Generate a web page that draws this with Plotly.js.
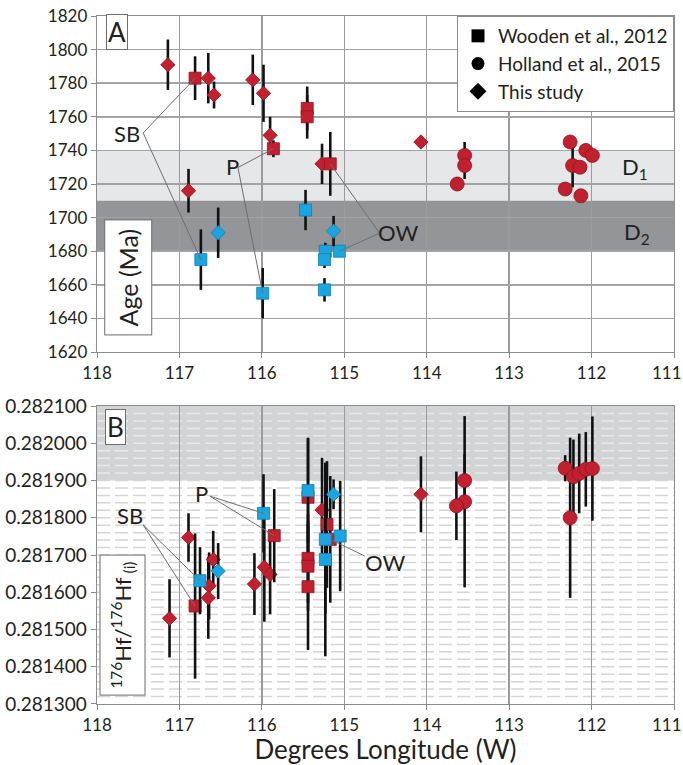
<!DOCTYPE html>
<html>
<head>
<meta charset="utf-8">
<script src="https://cdn.plot.ly/plotly-3.0.1.min.js"></script>
<style>html,body{margin:0;padding:0;background:#fff;}#chart{width:683px;height:765px;}</style>
</head>
<body>
<div id="chart"></div>
<script>
// ---------- Panel A : U-Pb age (Ma) ----------
const ageWoodenRedLon = [116.81, 115.86, 115.45, 115.45, 115.17];
const ageWoodenRedVal = [1783, 1741, 1765, 1760, 1732];
const ageWoodenRedErr = [13, 5, 13, 13, 19];

const ageWoodenBlueLon = [116.74, 115.99, 115.47, 115.23, 115.24, 115.06, 115.24];
const ageWoodenBlueVal = [1675, 1655, 1704.5, 1680, 1675, 1680, 1657];
const ageWoodenBlueErr = [18, 15, 12, 5, 5, 3, 7];

const ageStudyRedLon = [117.14, 116.65, 116.58, 116.11, 115.98, 115.90, 115.27, 116.89, 114.07];
const ageStudyRedVal = [1791, 1783, 1773, 1782, 1774, 1749, 1732, 1716, 1745];
const ageStudyRedErr = [15, 15, 8, 15, 17, 11, 12, 13, 2];

const ageStudyBlueLon = [116.53, 115.13];
const ageStudyBlueVal = [1691, 1692];
const ageStudyBlueErr = [15, 9];

const ageHollandLon = [113.54, 113.54, 113.63, 112.26, 112.07, 111.99, 112.23, 112.14, 112.32, 112.13];
const ageHollandVal = [1737, 1731, 1720, 1745, 1740, 1737, 1731, 1730, 1717, 1713];
const ageHollandErr = [8, 8, 4, 3, 3, 3, 13, 3, 3, 3];

// ---------- Panel B : 176Hf/176Hf(i) ----------
const hfStudyRedLon = [117.12, 116.89, 116.59, 116.64, 116.65, 116.09, 115.97, 115.90, 115.27, 114.07];
const hfStudyRedVal = [0.281530, 0.281747, 0.281688, 0.281617, 0.281585, 0.281622, 0.281667, 0.281648, 0.281821, 0.281863];
const hfStudyRedErr = [0.000105, 0.000065, 0.000077, 0.000090, 0.000110, 0.000083, 0.000146, 0.000107, 0.000140, 0.000102];

const hfWoodenRedLon = [116.81, 115.85, 115.44, 115.44, 115.44, 115.44, 115.21, 115.17];
const hfWoodenRedVal = [0.281563, 0.281752, 0.281855, 0.281691, 0.281670, 0.281615, 0.281782, 0.281742];
const hfWoodenRedErr = [0.000195, 0.000125, 0.000160, 0.000120, 0.000120, 0.000170, 0.000170, 0.000170];

const hfWoodenBlueLon = [116.75, 115.98, 115.44, 115.23, 115.23, 115.05];
const hfWoodenBlueVal = [0.281631, 0.281812, 0.281873, 0.281742, 0.281688, 0.281751];
const hfWoodenBlueErr = [0.000090, 0.000105, 0.000140, 0.000200, 0.000260, 0.000148];

const hfStudyBlueLon = [116.53, 115.13];
const hfStudyBlueVal = [0.281657, 0.281863];
const hfStudyBlueErr = [0.000075, 0.000040];

const hfHollandLon = [113.54, 113.54, 113.64, 112.32, 112.22, 112.15, 112.07, 111.99, 112.26];
const hfHollandVal = [0.281900, 0.281843, 0.281832, 0.281933, 0.281910, 0.281919, 0.281930, 0.281932, 0.281800];
const hfHollandErr = [0.000070, 0.000230, 0.000092, 0.000035, 0.000100, 0.000107, 0.000100, 0.000140, 0.000215];

// ---------- labels / axis settings ----------
const xTickVals = [118, 117, 116, 115, 114, 113, 112, 111];
const legendNames = ["Wooden et al., 2012", "Holland et al., 2015", "This study"];
const d1Band = [1710, 1740];
const d2Band = [1680, 1710];
const ageRange = [1620, 1820];
const hfRange = [0.2813, 0.2821];
const hfBand = [0.2819, 0.2821];
const hfMinorStep = 0.00002;

const RED = '#c3202f', RED_LINE = '#8a1520';
const BLUE = '#1ba5e0', BLUE_LINE = '#0f7fb3';
const FONT = 'Lato, "Open Sans", sans-serif';
const TXT = '#231f20';
const DASH = '13px,5px';

function pts(xa, ya, lon, val, err, symbol, size, color, line) {
  return {
    type: 'scatter', mode: 'markers', xaxis: xa, yaxis: ya, x: lon, y: val, showlegend: false,
    marker: {symbol: symbol, size: size, color: color, line: {color: line, width: 0.8}},
    error_y: {type: 'data', array: err, visible: true, color: '#111', thickness: 2.6, width: 0},
    hoverinfo: 'x+y'
  };
}

const traces = [
  pts('x', 'y', ageStudyRedLon, ageStudyRedVal, ageStudyRedErr, 'diamond', 11, RED, RED_LINE),
  pts('x', 'y', ageWoodenRedLon, ageWoodenRedVal, ageWoodenRedErr, 'square', 12, RED, RED_LINE),
  pts('x', 'y', ageHollandLon, ageHollandVal, ageHollandErr, 'circle', 14, RED, RED_LINE),
  pts('x', 'y', ageWoodenBlueLon, ageWoodenBlueVal, ageWoodenBlueErr, 'square', 12, BLUE, BLUE_LINE),
  pts('x', 'y', ageStudyBlueLon, ageStudyBlueVal, ageStudyBlueErr, 'diamond', 11, BLUE, BLUE_LINE),

  pts('x2', 'y2', hfHollandLon, hfHollandVal, hfHollandErr, 'circle', 14, RED, RED_LINE),
  pts('x2', 'y2', hfStudyRedLon, hfStudyRedVal, hfStudyRedErr, 'diamond', 11, RED, RED_LINE),
  pts('x2', 'y2', hfWoodenRedLon, hfWoodenRedVal, hfWoodenRedErr, 'square', 12, RED, RED_LINE),
  pts('x2', 'y2', hfWoodenBlueLon, hfWoodenBlueVal, hfWoodenBlueErr, 'square', 12, BLUE, BLUE_LINE),
  pts('x2', 'y2', hfStudyBlueLon, hfStudyBlueVal, hfStudyBlueErr, 'diamond', 11, BLUE, BLUE_LINE)
];
// legend entries (black symbols)
const legSymbols = ['square', 'circle', 'diamond'];
legendNames.forEach((n, i) => {
  traces.push({type: 'scatter', mode: 'markers', x: [null], y: [null], xaxis: 'x', yaxis: 'y',
    name: n, showlegend: true, marker: {symbol: legSymbols[i], size: 13, color: '#000'}});
});

const tickFont = {family: FONT, size: 17, color: TXT};
const lastTick = xTickVals[xTickVals.length - 1];
function xAxis(anchor, extra) {
  return Object.assign({
    anchor: anchor, range: [118, 111], tickvals: xTickVals,
    // the last label (at the right edge) is drawn as a right-aligned annotation so it stays inside the page
    ticktext: xTickVals.map(v => v === lastTick ? '' : String(v)),
    showgrid: true, gridcolor: '#9b9b9b', gridwidth: 1.3, zeroline: false,
    showline: true, linecolor: '#8c8c8c', linewidth: 1.3, mirror: true,
    ticks: 'outside', ticklen: 5, tickcolor: '#8c8c8c', tickfont: tickFont
  }, extra || {});
}

const labelFont = {family: FONT, size: 22, color: TXT};
const annotations = [
  {xref: 'x', yref: 'y', x: lastTick, y: ageRange[0], xanchor: 'right', yanchor: 'top', xshift: 9, yshift: -9,
   text: String(lastTick), showarrow: false, font: tickFont, borderpad: 0},
  {xref: 'x2', yref: 'y2', x: lastTick, y: hfRange[0], xanchor: 'right', yanchor: 'top', xshift: 9, yshift: -9,
   text: String(lastTick), showarrow: false, font: tickFont, borderpad: 0},

  {xref: 'x', yref: 'y', x: 117.76, y: 1810.5, text: 'A', showarrow: false, font: {family: FONT, size: 26, color: TXT},
   bgcolor: '#fff', bordercolor: '#6d6e71', borderwidth: 1, borderpad: 1},
  {xref: 'x', yref: 'y', x: 117.62, y: 1664.6, text: 'Age (Ma)', textangle: -90, showarrow: false,
   font: {family: FONT, size: 25, color: TXT}, bgcolor: '#fff', bordercolor: '#6d6e71', borderwidth: 1, borderpad: 8},
  {xref: 'x', yref: 'y', x: 117.64, y: 1749.8, text: 'SB', showarrow: false, font: labelFont},
  {xref: 'x', yref: 'y', x: 116.36, y: 1730.3, text: 'P', showarrow: false, font: labelFont},
  {xref: 'x', yref: 'y', x: 114.35, y: 1691.4, text: 'OW', showarrow: false, font: labelFont},
  {xref: 'x', yref: 'y', x: 111.47, y: 1729.5, text: 'D<sub>1</sub>', showarrow: false, font: labelFont},
  {xref: 'x', yref: 'y', x: 111.45, y: 1690.8, text: 'D<sub>2</sub>', showarrow: false, font: labelFont},

  {xref: 'x2', yref: 'y2', x: 117.78, y: 0.2820436, text: 'B', showarrow: false, font: {family: FONT, size: 26, color: TXT},
   bgcolor: '#fff', bordercolor: '#6d6e71', borderwidth: 1, borderpad: 1},
  {xref: 'x2', yref: 'y2', x: 117.69, y: 0.281512, text: '<sup>176</sup>Hf/<sup>176</sup>Hf<sub> (i)</sub>', textangle: -90, showarrow: false,
   font: {family: FONT, size: 22, color: TXT}, bgcolor: '#fff', bordercolor: '#6d6e71', borderwidth: 1, borderpad: 6},
  {xref: 'x2', yref: 'y2', x: 117.60, y: 0.281805, text: 'SB', showarrow: false, font: labelFont},
  {xref: 'x2', yref: 'y2', x: 116.73, y: 0.281864, text: 'P', showarrow: false, font: labelFont},
  {xref: 'x2', yref: 'y2', x: 114.51, y: 0.281679, text: 'OW', showarrow: false, font: labelFont}
];

function leader(xa, ya, x0, y0, x1, y1) {
  return {type: 'line', xref: xa, yref: ya, x0: x0, y0: y0, x1: x1, y1: y1, line: {color: '#6d6e71', width: 1}};
}
function band(xa, ya, lim, color) {
  return {type: 'rect', xref: xa + ' domain', yref: ya, x0: 0, x1: 1, y0: lim[0], y1: lim[1],
    fillcolor: color, line: {width: 0}, layer: 'below'};
}
const shapes = [
  band('x', 'y', d1Band, '#e6e7e8'),
  band('x', 'y', d2Band, '#939598'),
  band('x2', 'y2', hfBand, '#d1d3d4')
];
// dashed horizontal grid of panel B (lighter inside the grey band)
for (let k = 1; hfRange[0] + k * hfMinorStep < hfRange[1] - 1e-9; k++) {
  const yv = hfRange[0] + k * hfMinorStep;
  const inBand = yv > hfBand[0] + 1e-9;
  shapes.push({type: 'line', xref: 'x2 domain', yref: 'y2', x0: 0, x1: 1, y0: yv, y1: yv, layer: 'below',
    line: {color: inBand ? '#e9e9ea' : '#d6d6d6', width: 1.5, dash: DASH}});
}
shapes.push(
  leader('x', 'y', 117.44, 1750.4, ageWoodenRedLon[0], ageWoodenRedVal[0]),
  leader('x', 'y', 117.44, 1750.4, ageWoodenBlueLon[0], ageWoodenBlueVal[0]),
  leader('x', 'y', 116.29, 1729.8, ageWoodenRedLon[1], ageWoodenRedVal[1]),
  leader('x', 'y', 116.29, 1729.8, ageWoodenBlueLon[1], ageWoodenBlueVal[1]),
  leader('x', 'y', 114.57, 1690.7, ageWoodenRedLon[4], ageWoodenRedVal[4]),
  leader('x', 'y', 114.57, 1690.7, ageWoodenBlueLon[5], ageWoodenBlueVal[5]),
  leader('x2', 'y2', 117.44, 0.281781, hfWoodenBlueLon[0], hfWoodenBlueVal[0]),
  leader('x2', 'y2', 117.44, 0.281781, hfWoodenRedLon[0], hfWoodenRedVal[0]),
  leader('x2', 'y2', 116.63, 0.281858, hfWoodenBlueLon[1], hfWoodenBlueVal[1]),
  leader('x2', 'y2', 116.63, 0.281858, hfWoodenRedLon[1], hfWoodenRedVal[1]),
  leader('x2', 'y2', 114.75, 0.281697, hfWoodenRedLon[7], hfWoodenRedVal[7])
);

const layout = {
  width: 683, height: 765,
  margin: {l: 97, r: 9, t: 16, b: 61},
  paper_bgcolor: '#fff', plot_bgcolor: '#fff',
  font: {family: FONT, color: TXT},
  showlegend: true,
  legend: {x: 1, xanchor: 'right', y: 1, yanchor: 'top', bgcolor: '#fff', bordercolor: '#8c8c8c', borderwidth: 1,
    font: {family: FONT, size: 19, color: TXT}, itemwidth: 30, tracegroupgap: 0},
  xaxis: xAxis('y'),
  yaxis: {domain: [0.5116, 1], range: ageRange, dtick: 20, tick0: 1620, anchor: 'x',
    showgrid: true, gridcolor: '#a3a3a3', gridwidth: 1.5, zeroline: false,
    showline: true, linecolor: '#8c8c8c', linewidth: 1.3, mirror: true,
    ticks: 'outside', ticklen: 5, tickcolor: '#8c8c8c', tickfont: tickFont},
  xaxis2: xAxis('y2', {title: {text: 'Degrees Longitude (W)', font: {family: FONT, size: 26, color: TXT}, standoff: 6}}),
  yaxis2: {domain: [0, 0.4331], range: hfRange, dtick: 0.0001, tick0: 0.2813, tickformat: '.6f', anchor: 'x2',
    showgrid: false, zeroline: false,
    showline: true, linecolor: '#8c8c8c', linewidth: 1.3, mirror: true,
    ticks: 'outside', ticklen: 5, tickcolor: '#8c8c8c', tickfont: {family: FONT, size: 19, color: TXT}},
  annotations: annotations,
  shapes: shapes
};

Plotly.newPlot('chart', traces, layout, {displayModeBar: false, staticPlot: true});
</script>
</body>
</html>
